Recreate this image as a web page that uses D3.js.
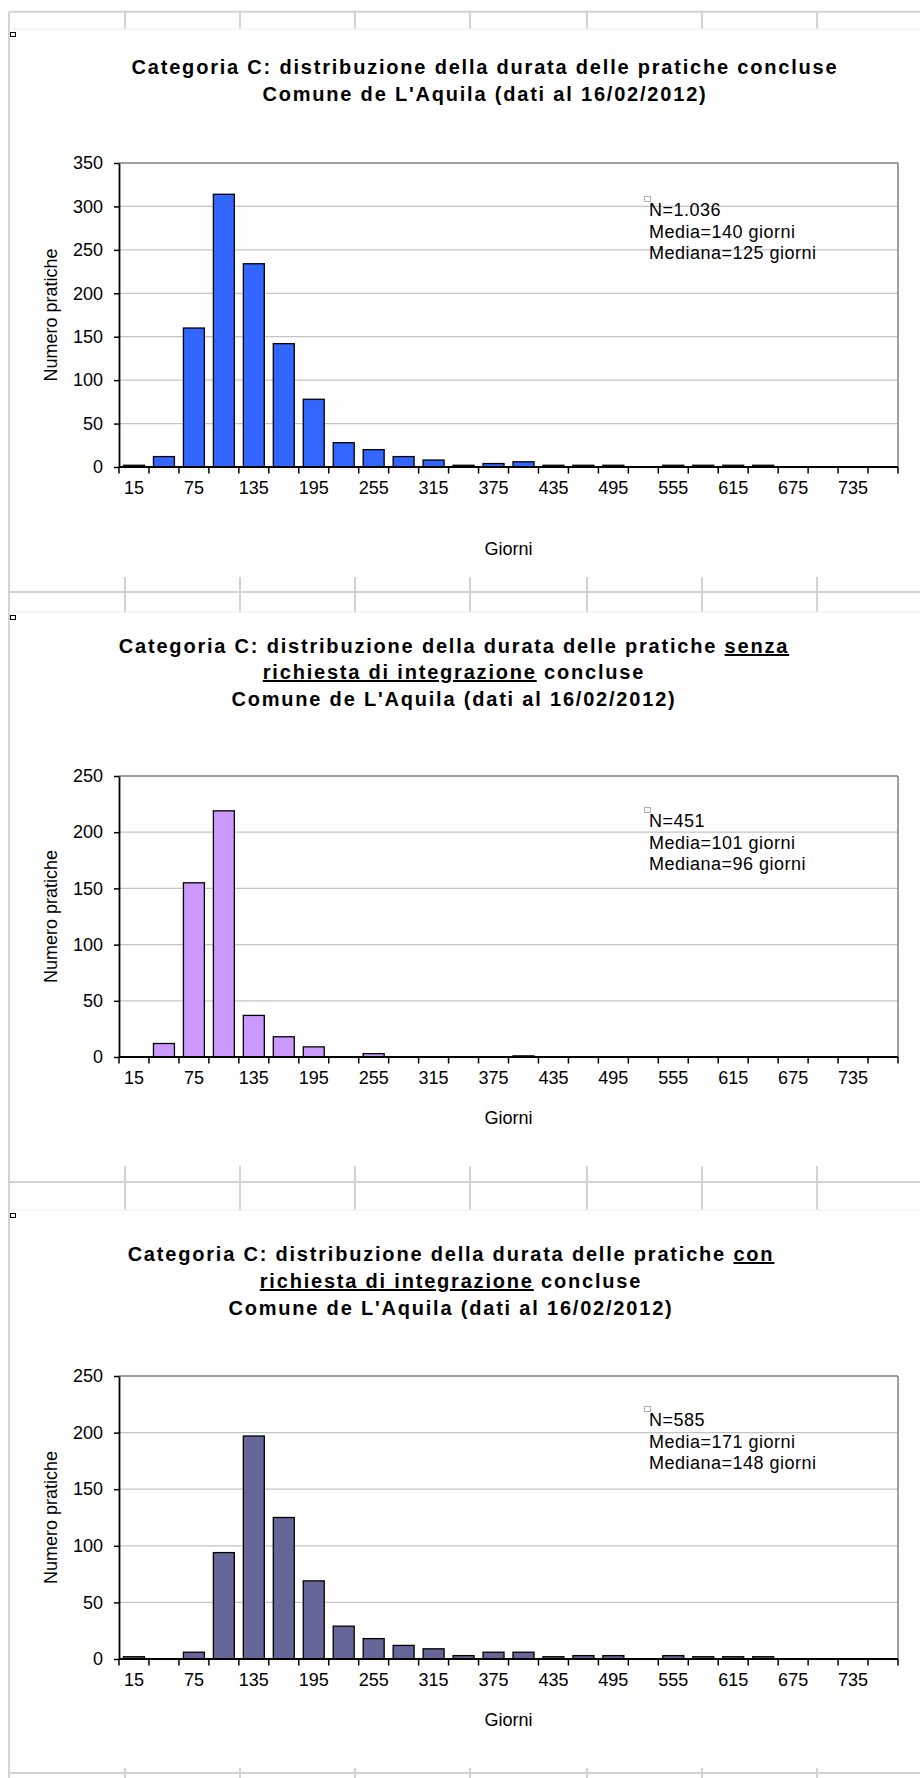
<!DOCTYPE html>
<html><head><meta charset="utf-8">
<script src="https://cdn.jsdelivr.net/npm/d3@7"></script>
<style>
body{margin:0;background:#fff}
svg text{font-family:"Liberation Sans",Arial,sans-serif}
</style>
</head><body>
<svg id="c" width="920" height="1778"></svg>
<script>
// ---------- DATA ----------
const categories = [15,45,75,105,135,165,195,225,255,285,315,345,375,405,435,465,495,525,555,585,615,645,675,705,735,765];
const xTickLabels = [15,75,135,195,255,315,375,435,495,555,615,675,735];
const valuesTutte = [2,12,160,314,234,142,78,28,20,12,8,2,4,6,2,2,2,0,2,2,2,2,0,0,0,0];
const valuesSenza = [0,12,155,219,37,18,9,0,3,0,0,0,0,1,0,0,0,0,0,0,0,0,0,0,0,0];
const valuesCon   = [2,0,6,94,197,125,69,29,18,12,9,3,6,6,2,3,3,0,3,2,2,2,0,0,0,0];
const yTicks1 = [0,50,100,150,200,250,300,350];
const yTicks23 = [0,50,100,150,200,250];
const annTutte = ["N=1.036","Media=140 giorni","Mediana=125 giorni"];
const annSenza = ["N=451","Media=101 giorni","Mediana=96 giorni"];
const annCon   = ["N=585","Media=171 giorni","Mediana=148 giorni"];
const titleTutte = [[{t:"Categoria C: distribuzione della durata delle pratiche concluse"}],
                    [{t:"Comune de L'Aquila (dati al 16/02/2012)"}]];
const titleSenza = [[{t:"Categoria C: distribuzione della durata delle pratiche "},{t:"senza",u:1}],
                    [{t:"richiesta di integrazione",u:1},{t:" concluse"}],
                    [{t:"Comune de L'Aquila (dati al 16/02/2012)"}]];
const titleCon   = [[{t:"Categoria C: distribuzione della durata delle pratiche "},{t:"con",u:1}],
                    [{t:"richiesta di integrazione",u:1},{t:" concluse"}],
                    [{t:"Comune de L'Aquila (dati al 16/02/2012)"}]];
const xAxisTitle = "Giorni";
const yAxisTitle = "Numero pratiche";

// ---------- LAYOUT ----------
const svg = d3.select("#c");
const gridColor = "#d3d3d3";
const colX = [125,240,355,470,587,702,817];
const rowLines = [11.7, 592, 1182, 1773];
const stubs = [[11.7,29],[577,612],[1166,1210],[1768,1778]];

// spreadsheet background
svg.append("line").attr("x1",9).attr("x2",9).attr("y1",11.7).attr("y2",1778)
  .attr("stroke",gridColor).attr("stroke-width",2);
rowLines.forEach(y=>svg.append("line").attr("x1",9).attr("x2",920).attr("y1",y).attr("y2",y)
  .attr("stroke",gridColor).attr("stroke-width",2));
stubs.forEach(([a,b])=>{
  colX.forEach(x=>svg.append("line").attr("x1",x).attr("x2",x).attr("y1",a).attr("y2",b)
    .attr("stroke",gridColor).attr("stroke-width",2));
  if (b < 1770) svg.append("line").attr("x1",9).attr("x2",920).attr("y1",b).attr("y2",b)
    .attr("stroke","#eeeeee").attr("stroke-width",1);
});

const charts = [
  {values:valuesTutte, color:"#3366ff", yTicks:yTicks1, ymax:350, top:163, bottom:467,
   title:titleTutte, titleX:485, titleY:[74,101], ann:annTutte, annY:216, sqY:32, giorni:88},
  {values:valuesSenza, color:"#cc99ff", yTicks:yTicks23, ymax:250, top:776, bottom:1057,
   title:titleSenza, titleX:454, titleY:[653,679,706], ann:annSenza, annY:827, sqY:615, giorni:67},
  {values:valuesCon, color:"#666699", yTicks:yTicks23, ymax:250, top:1376, bottom:1659,
   title:titleCon, titleX:451, titleY:[1261,1288,1315], ann:annCon, annY:1426, sqY:1213, giorni:67}
];
const x0 = 119, x1 = 898;

charts.forEach(c=>{
  const g = svg.append("g");
  // selection square
  g.append("rect").attr("x",10.5).attr("y",c.sqY+0.5).attr("width",5).attr("height",4)
    .attr("fill","#fff").attr("stroke","#000").attr("stroke-width",1);
  // title
  c.title.forEach((line,i)=>{
    const t = g.append("text").attr("x",c.titleX).attr("y",c.titleY[i])
      .attr("text-anchor","middle").attr("font-size",20).attr("font-weight","bold")
      .style("letter-spacing","1.8px").attr("fill","#000");
    line.forEach(s=>{
      const ts = t.append("tspan").text(s.t);
      if (s.u) ts.style("text-decoration","underline");
    });
  });

  const x = d3.scaleBand().domain(categories).range([x0,x1]).paddingInner(0.3).paddingOuter(0.15);
  const y = d3.scaleLinear().domain([0,c.ymax]).range([c.bottom,c.top]);

  // gridlines
  g.selectAll(".grid").data(c.yTicks.filter(v=>v>0 && v<c.ymax)).join("line")
    .attr("x1",x0).attr("x2",x1).attr("y1",d=>y(d)).attr("y2",d=>y(d))
    .attr("stroke","#c4c4c4").attr("stroke-width",1.2);
  // top & right border
  g.append("line").attr("x1",x0).attr("x2",x1).attr("y1",y(c.ymax)).attr("y2",y(c.ymax))
    .attr("stroke","#808080").attr("stroke-width",1.5);
  g.append("line").attr("x1",x1).attr("x2",x1).attr("y1",y(c.ymax)).attr("y2",y(0))
    .attr("stroke","#808080").attr("stroke-width",1.5);

  // bars
  g.selectAll(".bar").data(categories.map((k,i)=>({k,v:c.values[i]})).filter(d=>d.v>0)).join("rect")
    .attr("x",d=>x(d.k)).attr("width",x.bandwidth())
    .attr("y",d=>y(d.v)).attr("height",d=>y(0)-y(d.v))
    .attr("fill",c.color).attr("stroke","#000").attr("stroke-width",1.3);

  // y axis
  const ya = g.append("g").attr("transform",`translate(${x0},0)`)
    .call(d3.axisLeft(y).tickValues(c.yTicks).tickSize(5).tickSizeOuter(0).tickPadding(11));
  ya.select(".domain").attr("stroke","#000").attr("stroke-width",1.8);
  ya.selectAll(".tick line").attr("stroke","#000").attr("stroke-width",1.5);
  ya.selectAll("text").attr("font-size",18).attr("fill","#000")
    .style("font-family",'"Liberation Sans",Arial,sans-serif');

  // x axis labels
  const xa = g.append("g").attr("transform",`translate(0,${y(0)})`)
    .call(d3.axisBottom(x).tickValues(xTickLabels).tickSize(0).tickSizeOuter(0).tickPadding(14));
  xa.select(".domain").remove();
  xa.selectAll("text").attr("font-size",18).attr("fill","#000")
    .style("font-family",'"Liberation Sans",Arial,sans-serif');
  // x axis line & boundary ticks
  g.append("line").attr("x1",x0).attr("x2",x1).attr("y1",y(0)).attr("y2",y(0))
    .attr("stroke","#000").attr("stroke-width",2);
  const bounds = categories.map(k=>x(k)-x.step()*x.paddingInner()/2).concat([x1]);
  g.selectAll(".xt").data(bounds).join("line")
    .attr("x1",d=>d).attr("x2",d=>d).attr("y1",y(0)).attr("y2",y(0)+6.5)
    .attr("stroke","#000").attr("stroke-width",1.5);

  // axis titles
  g.append("text").attr("x",(x0+x1)/2).attr("y",y(0)+c.giorni).attr("text-anchor","middle")
    .attr("font-size",18).text(xAxisTitle);
  const yc = (c.top+c.bottom)/2;
  g.append("text").attr("transform",`translate(57,${yc}) rotate(-90)`).attr("text-anchor","middle")
    .attr("font-size",18).text(yAxisTitle);

  // annotation
  g.append("rect").attr("x",644.5).attr("y",c.annY-19.5).attr("width",6).attr("height",5)
    .attr("fill","#fff").attr("stroke","#b0b0b0").attr("stroke-width",1);
  c.ann.forEach((s,i)=>g.append("text").attr("x",649).attr("y",c.annY+i*21.5)
    .attr("font-size",18).style("letter-spacing","0.5px").text(s));
});
</script>
</body></html>
